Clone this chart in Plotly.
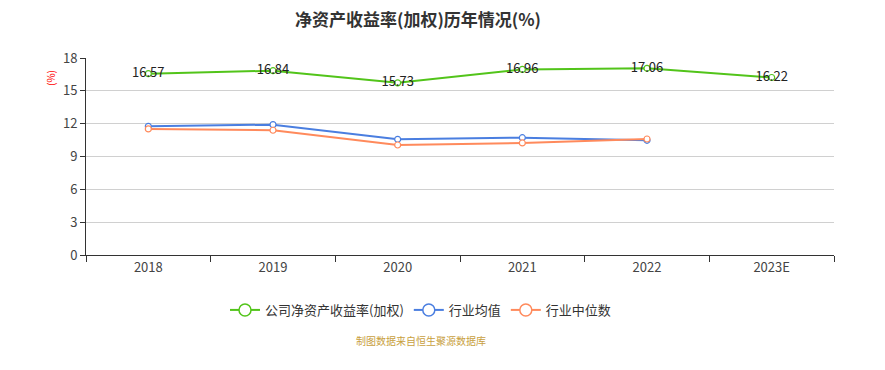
import plotly.graph_objects as go

years = ["2018", "2019", "2020", "2021", "2022", "2023E"]
company = [16.57, 16.84, 15.73, 16.96, 17.06, 16.22]
ind_avg = [11.76, 11.91, 10.57, 10.72, 10.48]
ind_med = [11.52, 11.40, 10.05, 10.24, 10.60]
yticks = [0, 3, 6, 9, 12, 15, 18]
names = ["公司净资产收益率(加权)", "行业均值", "行业中位数"]

FONT = "Noto Sans CJK SC"
green, blue, orange = "#52c41a", "#4a7ee0", "#ff8a5c"
colors = [green, blue, orange]

fig = go.Figure()
fig.add_trace(go.Scatter(
    x=years, y=company, name=names[0], mode="lines+markers+text", showlegend=False,
    text=[f"{v:.2f}" for v in company], textposition="middle center",
    textfont=dict(size=13, color="#222", family=FONT),
    line=dict(color=green, width=2),
    marker=dict(symbol="circle", size=6, color="white", line=dict(color=green, width=1.2)),
))
fig.add_trace(go.Scatter(
    x=years[:5], y=ind_avg, name=names[1], mode="lines+markers", showlegend=False,
    line=dict(color=blue, width=2),
    marker=dict(symbol="circle", size=6, color="white", line=dict(color=blue, width=1.2)),
))
fig.add_trace(go.Scatter(
    x=years[:5], y=ind_med, name=names[2], mode="lines+markers", showlegend=False,
    line=dict(color=orange, width=2),
    marker=dict(symbol="circle", size=6, color="white", line=dict(color=orange, width=1.2)),
))
# legend-only entries with larger hollow markers
for n, c in zip(names, colors):
    fig.add_trace(go.Scatter(
        x=[None], y=[None], name=n, mode="lines+markers",
        line=dict(color=c, width=2),
        marker=dict(symbol="circle", size=12, color="white", line=dict(color=c, width=1.5)),
    ))

fig.update_layout(
    width=885, height=370,
    margin=dict(l=86, r=51, t=58, b=115),
    paper_bgcolor="white", plot_bgcolor="white",
    font=dict(family=FONT, color="#333"),
    title=dict(text="<b>净资产收益率(加权)历年情况(%)</b>", x=418 / 885, xanchor="center",
               y=1 - 20 / 370, yanchor="middle", font=dict(size=17, color="#333", family=FONT)),
    showlegend=True,
    legend=dict(orientation="h", x=(225 - 86) / 748, xanchor="left", y=-0.279, yanchor="middle",
                font=dict(size=13, color="#333", family=FONT), itemwidth=30),
    xaxis=dict(type="category", tickson="boundaries", ticks="outside", ticklen=6,
               tickcolor="#333", showline=True, linecolor="#333", linewidth=1,
               showgrid=False, tickfont=dict(size=13, color="#444"),
               range=[-0.5, 5.5]),
    yaxis=dict(range=[0, 18], tickvals=yticks, ticks="outside", ticklen=5,
               tickcolor="#333", showline=True, linecolor="#333", linewidth=1,
               gridcolor="#d0d0d0", zeroline=False, tickfont=dict(size=13, color="#444")),
)
fig.add_annotation(text="(%)", textangle=-90, xref="paper", yref="paper",
                   x=(50 - 86) / 748, y=(255 - 78) / 197, xanchor="center", yanchor="middle",
                   showarrow=False, font=dict(size=10, color="red", family=FONT))
fig.add_annotation(text="制图数据来自恒生聚源数据库", xref="paper", yref="paper",
                   x=(421 - 86) / 748, y=-85 / 197, xanchor="center", yanchor="middle", showarrow=False,
                   font=dict(size=10, color="#c8a040", family=FONT))
fig.write_html("out.html", config={"displayModeBar": False},
               post_script="document.body.style.margin='0';document.body.style.padding='0';")
